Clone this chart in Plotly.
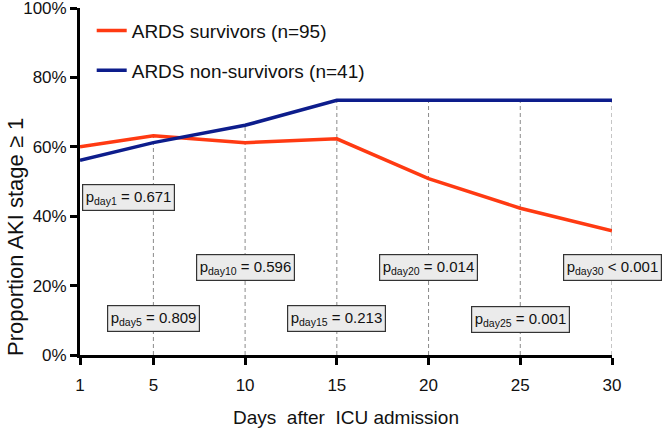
import plotly.graph_objects as go

# data
days = [1, 5, 10, 15, 20, 25, 30]
survivors = [60.0, 63.2, 61.2, 62.3, 50.8, 42.3, 35.8]
non_survivors = [56.1, 61.2, 66.2, 73.4, 73.4, 73.4, 73.4]
p_days = [1, 5, 10, 15, 20, 25, 30]
p_values = ["= 0.671", "= 0.809", "= 0.596", "= 0.213", "= 0.014", "= 0.001", "< 0.001"]

x_ticks = [1, 5, 10, 15, 20, 25, 30]
y_ticks = [0, 20, 40, 60, 80, 100]

FONT = "Liberation Sans, Arial, Helvetica, sans-serif"
RED = "#FF3A12"
BLUE = "#0D1D8C"

fig = go.Figure()

# dashed guide lines from 0 up to the higher of the two curves
guide_x, guide_y = [], []
for d, a, b in zip(days, survivors, non_survivors):
    if d == days[0]:
        continue
    guide_x += [d, d, None]
    guide_y += [0, max(a, b), None]
fig.add_trace(go.Scatter(
    x=guide_x, y=guide_y, mode="lines", showlegend=False, hoverinfo="skip",
    line=dict(color="#8a8a8a", width=1, dash="4px,3px"),
))

fig.add_trace(go.Scatter(
    x=days, y=survivors, mode="lines", name="ARDS survivors (n=95)",
    line=dict(color=RED, width=3.5), legend="legend",
))
fig.add_trace(go.Scatter(
    x=days, y=non_survivors, mode="lines", name="ARDS non-survivors (n=41)",
    line=dict(color=BLUE, width=3.5), legend="legend2",
))

# p-value boxes (vertical placement in % units)
label_y = [45.3, 10.6, 25.2, 10.6, 25.2, 10.2, 25.2]
for i, (d, pv) in enumerate(zip(p_days, p_values)):
    first = i == 0
    fig.add_annotation(
        x=d, y=label_y[i], xref="x", yref="y",
        text=f"p<sub>day{d}</sub> {pv}",
        showarrow=False,
        xanchor="left" if first else "center",
        xshift=2 if first else 0,
        font=dict(family=FONT, size=15, color="#111"),
        bgcolor="#ebebeb", bordercolor="#333333", borderwidth=1.2, borderpad=2.5,
    )

# y title as annotation so it can sit lower like the original
fig.add_annotation(
    x=0, y=0.34, xref="paper", yref="paper", xshift=-65, xanchor="center",
    text="Proportion AKI stage \u2265 1", textangle=-90, showarrow=False,
    font=dict(family=FONT, size=22, color="#111"),
)

axis_common = dict(
    showline=True, linecolor="black", linewidth=2.8,
    ticks="outside", ticklen=7, tickwidth=2.5, tickcolor="black",
    showgrid=False, zeroline=False, automargin=False,
    ticklabeloverflow="allow",
    tickfont=dict(family=FONT, size=17, color="#111"),
)

fig.update_xaxes(
    range=[1, 30], tickvals=x_ticks, ticklabelstandoff=6,
    title=dict(text="Days  after  ICU admission", standoff=19,
               font=dict(family=FONT, size=19, color="#111")),
    **axis_common,
)
fig.update_yaxes(
    range=[0, 100], tickvals=y_ticks, ticktext=[f"{v}%" for v in y_ticks],
    **axis_common,
)

legend_common = dict(
    xanchor="left", yanchor="middle", bgcolor="rgba(0,0,0,0)",
    font=dict(family=FONT, size=19, color="#111"),
)
fig.update_layout(
    width=662, height=428,
    margin=dict(l=80, r=50, t=8, b=73),
    plot_bgcolor="white", paper_bgcolor="white",
    legend=dict(x=0.022, y=0.935, **legend_common),
    legend2=dict(x=0.022, y=0.82, **legend_common),
)

# drop the browser's default page margin so the figure sits at the corner
fig.write_html("out.html", config={"displayModeBar": False},
               post_script="document.body.style.margin='0';")
